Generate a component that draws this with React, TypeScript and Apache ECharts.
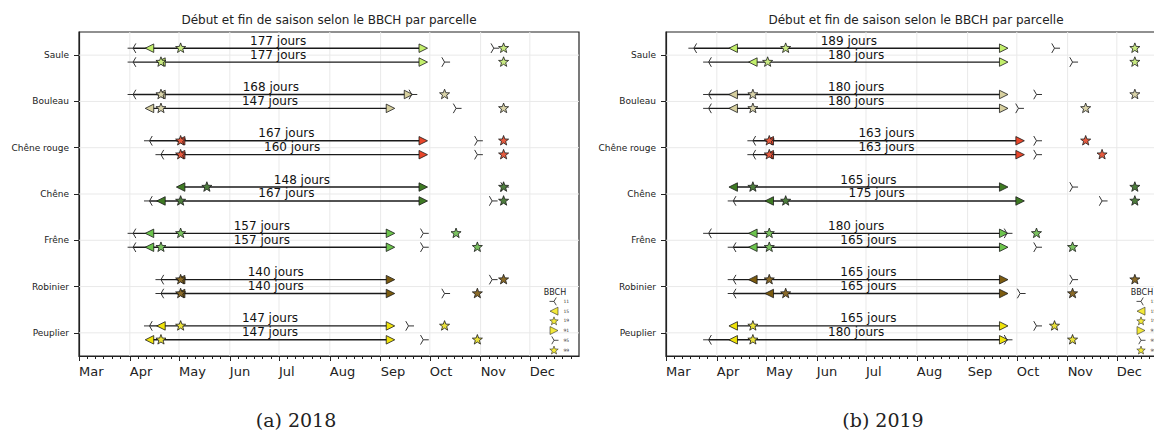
import React, { useEffect, useRef } from 'react';
import * as echarts from 'echarts';

// ---------- data ----------
const TITLE = 'Début et fin de saison selon le BBCH par parcelle';
const CAPTIONS = ['(a) 2018', '(b) 2019'];
const SPECIES = ['Saule', 'Bouleau', 'Chêne rouge', 'Chêne', 'Frêne', 'Robinier', 'Peuplier'];
const TRI_COLORS = ['#c3ef6c', '#d7d09f', '#e9462a', '#3e7a23', '#6cc44c', '#7b5b0f', '#f0e30a'];
const STAR_COLORS = ['#c9ea82', '#dad4aa', '#e65b3f', '#4e7e3d', '#7ac25f', '#8b6b29', '#ebe23a'];
const MONTH_NAMES = ['Mar', 'Apr', 'May', 'Jun', 'Jul', 'Aug', 'Sep', 'Oct', 'Nov', 'Dec'];
const MONTH_STARTS = [0, 31, 61, 92, 122, 153, 184, 214, 245, 275]; // days since 1 March
const MINOR_OFFSETS = [5, 10, 15, 20, 25];
const BBCH_STAGES = ['11', '15', '19', '91', '95', '99'];

// rows: for each species, two plots (upper, lower); values = days since 1 March
const BBCH11_2018 = [33, 33, 33, null, 43, 50, null, 43, 33, 33, 50, 50, 43, null];
const BBCH15_2018 = [43, 50, 50, 43, 62, 62, 62, 50, 43, 43, 62, 62, 50, 43];
const BBCH19_2018 = [62, 50, 50, 50, 62, 62, 78, 62, 62, 50, 62, 62, 62, 50];
const BBCH91_2018 = [210, 210, 201, 190, 210, 210, 210, 210, 190, 190, 190, 190, 190, 190];
const BBCH95_2018 = [253, 223, 203, 230, 243, 243, 259, 252, 210, 210, 252, 223, 201, 210];
const BBCH99_2018 = [259, 259, 223, 259, 259, 259, 259, 259, 230, 243, 259, 243, 223, 243];
const JOURS_2018 = [177, 177, 168, 147, 167, 160, 148, 167, 157, 157, 140, 140, 147, 147];

const BBCH11_2019 = [17, 26, 26, 26, 53, 53, null, 41, 26, 41, 41, 41, null, 26];
const BBCH15_2019 = [41, 53, 41, 41, 63, 63, 41, 63, 53, 53, 53, 63, 41, 41];
const BBCH19_2019 = [73, 62, 53, 53, 63, 63, 53, 73, 63, 63, 63, 73, 53, 53];
const BBCH91_2019 = [206, 206, 206, 206, 216, 216, 206, 216, 206, 206, 206, 206, 206, 206];
const BBCH95_2019 = [237, 248, 226, 215, 226, 226, 248, 266, 208, 226, 248, 216, 226, 208];
const BBCH99_2019 = [286, 286, 286, 256, 256, 266, 286, 286, 226, 248, 286, 248, 237, 248];
const JOURS_2019 = [189, 180, 180, 180, 163, 163, 165, 175, 180, 165, 165, 165, 165, 180];

// ---------- layout ----------
const GRID_LEFTS = [79, 666];
const GRID_TOP = 32;
const GRID_W = 500;
const GRID_H = 324;
const X_MAX = 305;
const ROW_SHIFT = 0.15;
const FONT = 'DejaVu Sans';

const starPts = (cx: number, cy: number, R: number, r: number) => {
  const pts: number[][] = [];
  for (let k = 0; k < 10; k++) {
    const a = -Math.PI / 2 + (k * Math.PI) / 5;
    const rad = k % 2 === 0 ? R : r;
    pts.push([cx + rad * Math.cos(a), cy + rad * Math.sin(a)]);
  }
  return pts;
};

const STAR_PATH =
  'path://' +
  starPts(5, 5, 5, 2.1)
    .map((p, i) => (i ? 'L' : 'M') + p[0].toFixed(2) + ',' + p[1].toFixed(2))
    .join('') +
  'Z';

const LEGEND_ICONS: Record<string, string> = {
  '11': 'path://M0,5L5,5M5,5L7.5,0.67M5,5L7.5,9.33M10,5L10,5',
  '15': 'path://M0,5L10,0L10,10Z',
  '19': STAR_PATH,
  '91': 'path://M10,5L0,0L0,10Z',
  '95': 'path://M10,5L5,5M5,5L2.5,0.67M5,5L2.5,9.33M0,5L0,5',
  '99': STAR_PATH,
};

const MINOR_TICKS: number[] = [];
MONTH_STARTS.forEach((m) => MINOR_OFFSETS.forEach((o) => { if (m + o < X_MAX) MINOR_TICKS.push(m + o); }));

const PANELS = [
  { b11: BBCH11_2018, b15: BBCH15_2018, b19: BBCH19_2018, b91: BBCH91_2018, b95: BBCH95_2018, b99: BBCH99_2018, jours: JOURS_2018 },
  { b11: BBCH11_2019, b15: BBCH15_2019, b19: BBCH19_2019, b91: BBCH91_2019, b95: BBCH95_2019, b99: BBCH99_2019, jours: JOURS_2019 },
];

const num = (v: number | null) => (v === null ? NaN : v);

function rowData(p: (typeof PANELS)[number]) {
  return p.b15.map((_, r) => {
    const sp = Math.floor(r / 2);
    const y = sp + (r % 2 === 0 ? -ROW_SHIFT : ROW_SHIFT);
    return [y, num(p.b11[r]), num(p.b15[r]), num(p.b19[r]), num(p.b91[r]), num(p.b95[r]), num(p.b99[r]), p.jours[r], sp];
  });
}

const renderRow = (params: any, api: any) => {
  const yv = api.value(0);
  const d11 = api.value(1), d15 = api.value(2), d19 = api.value(3);
  const d91 = api.value(4), d95 = api.value(5), d99 = api.value(6);
  const jours = api.value(7);
  const sp = api.value(8);
  const pt = (d: number) => api.coord([d, yv]);
  const start = isNaN(d11) ? d15 : d11;
  const p0 = pt(start);
  const p1 = pt(d91);
  const edge = { stroke: '#1a1a1a', lineWidth: 0.8 };
  const children: any[] = [];
  children.push({ type: 'line', shape: { x1: p0[0], y1: p0[1], x2: p1[0], y2: p1[1] }, style: { stroke: '#1a1a1a', lineWidth: 1.4 } });
  const R = 5.5;
  if (!isNaN(d11)) {
    const [cx, cy] = pt(d11);
    children.push({ type: 'polyline', shape: { points: [[cx - R, cy], [cx, cy]] }, style: { stroke: '#333', lineWidth: 1, fill: null } });
    children.push({ type: 'polyline', shape: { points: [[cx + R * 0.5, cy - R * 0.866], [cx, cy], [cx + R * 0.5, cy + R * 0.866]] }, style: { stroke: '#333', lineWidth: 1, fill: null } });
  }
  const s = 8.5;
  if (!isNaN(d15)) {
    const [cx, cy] = pt(d15);
    children.push({ type: 'polygon', shape: { points: [[cx - s / 2, cy], [cx + s / 2, cy - s / 2], [cx + s / 2, cy + s / 2]] }, style: { fill: TRI_COLORS[sp], ...edge } });
  }
  if (!isNaN(d19)) {
    const [cx, cy] = pt(d19);
    children.push({ type: 'polygon', shape: { points: starPts(cx, cy, 5.3, 2.2) }, style: { fill: STAR_COLORS[sp], ...edge } });
  }
  if (!isNaN(d91)) {
    const [cx, cy] = pt(d91);
    children.push({ type: 'polygon', shape: { points: [[cx + s / 2, cy], [cx - s / 2, cy - s / 2], [cx - s / 2, cy + s / 2]] }, style: { fill: TRI_COLORS[sp], ...edge } });
  }
  if (!isNaN(d95)) {
    const [cx, cy] = pt(d95);
    children.push({ type: 'polyline', shape: { points: [[cx + R, cy], [cx, cy]] }, style: { stroke: '#333', lineWidth: 1, fill: null } });
    children.push({ type: 'polyline', shape: { points: [[cx - R * 0.5, cy - R * 0.866], [cx, cy], [cx - R * 0.5, cy + R * 0.866]] }, style: { stroke: '#333', lineWidth: 1, fill: null } });
  }
  if (!isNaN(d99)) {
    const [cx, cy] = pt(d99);
    children.push({ type: 'polygon', shape: { points: starPts(cx, cy, 5.3, 2.2) }, style: { fill: STAR_COLORS[sp], ...edge } });
  }
  children.push({
    type: 'text',
    x: (p0[0] + p1[0]) / 2,
    y: p0[1] - 1.5,
    style: {
      text: jours + ' jours', fill: '#111', fontSize: 12, fontFamily: FONT,
      align: 'center', textAlign: 'center', verticalAlign: 'bottom', textVerticalAlign: 'bottom',
    },
  });
  return { type: 'group', children };
};

const renderVGrid = (params: any, api: any) => {
  const a = api.coord([api.value(0), -0.5]);
  const b = api.coord([api.value(0), 6.5]);
  return { type: 'line', shape: { x1: a[0], y1: a[1], x2: b[0], y2: b[1] }, style: { stroke: '#e9e9e9', lineWidth: 1 } };
};
const renderHGrid = (params: any, api: any) => {
  const a = api.coord([0, api.value(0)]);
  const b = api.coord([X_MAX, api.value(0)]);
  return { type: 'line', shape: { x1: a[0], y1: a[1], x2: b[0], y2: b[1] }, style: { stroke: '#e9e9e9', lineWidth: 1 } };
};

function buildOption() {
  const grid: any[] = [];
  const xAxis: any[] = [];
  const yAxis: any[] = [];
  const series: any[] = [];
  const legend: any[] = [];
  const graphic: any[] = [];
  const CAT_IDX = SPECIES.map((_, i) => i);

  PANELS.forEach((p, k) => {
    const left = GRID_LEFTS[k];
    grid.push({ left, top: GRID_TOP, width: GRID_W, height: GRID_H, show: true, borderColor: '#222', borderWidth: 1.2, backgroundColor: 'transparent', containLabel: false, outerBoundsMode: 'none' });
    xAxis.push({
      type: 'value', gridIndex: k, min: 0, max: X_MAX, position: 'bottom',
      axisLine: { show: true, onZero: false, lineStyle: { color: '#222', width: 1.2 } },
      axisTick: { show: true, customValues: MONTH_STARTS, length: 5, lineStyle: { color: '#222', width: 1 } },
      axisLabel: {
        show: true, customValues: MONTH_STARTS, align: 'left', margin: 9,
        formatter: (v: number) => MONTH_NAMES[MONTH_STARTS.indexOf(v)] ?? '',
        fontSize: 13, fontFamily: FONT, color: '#222',
      },
      splitLine: { show: false },
    });
    xAxis.push({
      type: 'value', gridIndex: k, min: 0, max: X_MAX, position: 'bottom',
      axisLine: { show: false, onZero: false },
      axisTick: { show: true, customValues: MINOR_TICKS, length: 3, lineStyle: { color: '#222', width: 1 } },
      axisLabel: { show: false },
      splitLine: { show: false },
    });
    yAxis.push({
      type: 'value', gridIndex: k, min: -0.5, max: 6.5, inverse: true,
      axisLine: { show: true, onZero: false, lineStyle: { color: '#222', width: 1.2 } },
      axisTick: { show: true, customValues: CAT_IDX, length: 5, lineStyle: { color: '#222', width: 1 } },
      axisLabel: {
        show: true, customValues: CAT_IDX, margin: 10,
        formatter: (v: number) => SPECIES[Math.round(v)] ?? '',
        fontSize: 9, fontFamily: FONT, color: '#222',
      },
      splitLine: { show: false },
    });
    const xi = k * 2;
    series.push({ type: 'custom', xAxisIndex: xi, yAxisIndex: k, renderItem: renderVGrid, data: MONTH_STARTS.slice(1).map((m) => [m]), silent: true, z: 1 });
    series.push({ type: 'custom', xAxisIndex: xi, yAxisIndex: k, renderItem: renderHGrid, data: CAT_IDX.map((c) => [c]), silent: true, z: 1 });
    series.push({ type: 'custom', xAxisIndex: xi, yAxisIndex: k, renderItem: renderRow, data: rowData(p), silent: true, z: 3, encode: { x: [1, 2, 3, 4, 5, 6], y: 0 } });

    legend.push({
      orient: 'vertical', left: left + 470, top: 297, itemWidth: 9, itemHeight: 8, itemGap: 1, padding: 0,
      selectedMode: false,
      textStyle: { fontSize: 4.5, color: '#333', fontFamily: FONT },
      data: BBCH_STAGES.map((s) => ({
        name: s, icon: LEGEND_ICONS[s],
        itemStyle: s === '11' || s === '95'
          ? { color: 'transparent', borderColor: '#222', borderWidth: 1 }
          : { color: '#f0e30a', borderColor: '#222', borderWidth: 0.7 },
      })),
    });

    graphic.push({
      type: 'text', x: left + GRID_W / 2, y: 20,
      style: { text: TITLE, fontSize: 12, fontFamily: FONT, fill: '#222', align: 'center', textAlign: 'center', verticalAlign: 'middle', textVerticalAlign: 'middle' },
    });
    graphic.push({
      type: 'text', x: left + 476, y: 292,
      style: { text: 'BBCH', fontSize: 8, fontFamily: FONT, fill: '#222', align: 'center', textAlign: 'center', verticalAlign: 'middle', textVerticalAlign: 'middle' },
    });
    graphic.push({
      type: 'text', x: left + GRID_W / 2 - 33, y: 420,
      style: { text: CAPTIONS[k], fontSize: 19, fontFamily: 'DejaVu Serif', fill: '#222', align: 'center', textAlign: 'center', verticalAlign: 'middle', textVerticalAlign: 'middle' },
    });
  });

  BBCH_STAGES.forEach((s) => {
    series.push({
      type: 'scatter', name: s, data: [], xAxisIndex: 0, yAxisIndex: 0,
      itemStyle: s === '11' || s === '95'
        ? { color: 'transparent', borderColor: '#222', borderWidth: 1 }
        : { color: '#f0e30a', borderColor: '#222', borderWidth: 0.7 },
    });
  });

  return { animation: false, backgroundColor: '#ffffff', grid, xAxis, yAxis, series, legend, graphic };
}

export default function App() {
  const ref = useRef<HTMLDivElement>(null);
  useEffect(() => {
    const chart = echarts.init(ref.current!, null, { renderer: 'svg' });
    chart.setOption(buildOption() as any);
    return () => chart.dispose();
  }, []);
  return <div ref={ref} style={{ position: 'fixed', left: 0, top: 0, width: 1154, height: 430, background: '#fff' }} />;
}
